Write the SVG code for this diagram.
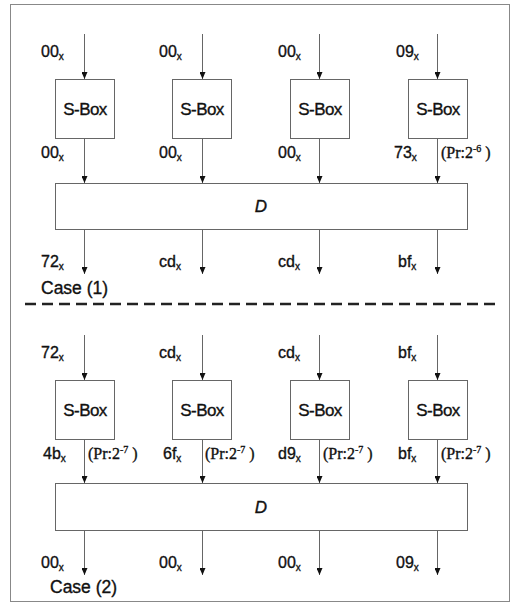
<svg xmlns="http://www.w3.org/2000/svg" width="512" height="605" viewBox="0 0 512 605">
<style>
.bg{fill:#fff}
.frame{fill:none;stroke:#888;stroke-width:1}
.box{fill:#fff;stroke:#666;stroke-width:1}
.ln{fill:none;stroke:#666;stroke-width:1}
.dash{fill:none;stroke:#222;stroke-width:2.4;stroke-dasharray:11 6}
text{stroke:#111;stroke-width:0.35px}
.lbl{font-family:"Liberation Sans",Arial,sans-serif;font-size:16px;fill:#111}
.sub{font-size:10px}
.sb{font-family:"Liberation Sans",Arial,sans-serif;font-size:17px;fill:#111;text-anchor:middle;letter-spacing:-0.6px}
.d{font-family:"Liberation Sans",Arial,sans-serif;font-size:17px;font-style:italic;fill:#111;text-anchor:middle}
.pr{font-family:"Liberation Serif","Times New Roman",serif;font-size:16px;fill:#111}
.sup{font-size:10px}
.case{font-family:"Liberation Sans",Arial,sans-serif;font-size:17.5px;fill:#111}
</style>
<defs>
<marker id="ah" markerUnits="userSpaceOnUse" markerWidth="7" markerHeight="6" refX="7" refY="3" orient="auto">
<path d="M0,0 L7,3 L0,6 z" fill="#111"/>
</marker>
</defs>
<rect class="bg" x="0" y="0" width="512" height="605"/>
<rect class="frame" x="10.5" y="4.5" width="499" height="597"/>

<g id="connectors">
<line class="ln" x1="84.5" y1="34" x2="84.5" y2="79" marker-end="url(#ah)"/>
<line class="ln" x1="202.5" y1="34" x2="202.5" y2="79" marker-end="url(#ah)"/>
<line class="ln" x1="319.5" y1="34" x2="319.5" y2="79" marker-end="url(#ah)"/>
<line class="ln" x1="437.5" y1="34" x2="437.5" y2="79" marker-end="url(#ah)"/>
<line class="ln" x1="84.5" y1="138" x2="84.5" y2="183" marker-end="url(#ah)"/>
<line class="ln" x1="202.5" y1="138" x2="202.5" y2="183" marker-end="url(#ah)"/>
<line class="ln" x1="319.5" y1="138" x2="319.5" y2="183" marker-end="url(#ah)"/>
<line class="ln" x1="437.5" y1="138" x2="437.5" y2="183" marker-end="url(#ah)"/>
<line class="ln" x1="84.5" y1="229" x2="84.5" y2="274" marker-end="url(#ah)"/>
<line class="ln" x1="202.5" y1="229" x2="202.5" y2="274" marker-end="url(#ah)"/>
<line class="ln" x1="319.5" y1="229" x2="319.5" y2="274" marker-end="url(#ah)"/>
<line class="ln" x1="437.5" y1="229" x2="437.5" y2="274" marker-end="url(#ah)"/>
<line class="dash" x1="25" y1="304" x2="497" y2="304"/>
<line class="ln" x1="84.5" y1="335" x2="84.5" y2="380" marker-end="url(#ah)"/>
<line class="ln" x1="202.5" y1="335" x2="202.5" y2="380" marker-end="url(#ah)"/>
<line class="ln" x1="319.5" y1="335" x2="319.5" y2="380" marker-end="url(#ah)"/>
<line class="ln" x1="437.5" y1="335" x2="437.5" y2="380" marker-end="url(#ah)"/>
<line class="ln" x1="84.5" y1="439" x2="84.5" y2="483" marker-end="url(#ah)"/>
<line class="ln" x1="202.5" y1="439" x2="202.5" y2="483" marker-end="url(#ah)"/>
<line class="ln" x1="319.5" y1="439" x2="319.5" y2="483" marker-end="url(#ah)"/>
<line class="ln" x1="437.5" y1="439" x2="437.5" y2="483" marker-end="url(#ah)"/>
<line class="ln" x1="84.5" y1="530" x2="84.5" y2="575" marker-end="url(#ah)"/>
<line class="ln" x1="202.5" y1="530" x2="202.5" y2="575" marker-end="url(#ah)"/>
<line class="ln" x1="319.5" y1="530" x2="319.5" y2="575" marker-end="url(#ah)"/>
<line class="ln" x1="437.5" y1="530" x2="437.5" y2="575" marker-end="url(#ah)"/>
</g>

<g id="c1-sbox1"><rect class="box" x="55.5" y="79.5" width="59" height="59"/><text class="sb" x="85" y="115">S-Box</text></g>
<g id="c1-sbox2"><rect class="box" x="172.5" y="79.5" width="59" height="59"/><text class="sb" x="202" y="115">S-Box</text></g>
<g id="c1-sbox3"><rect class="box" x="290.5" y="79.5" width="59" height="59"/><text class="sb" x="320" y="115">S-Box</text></g>
<g id="c1-sbox4"><rect class="box" x="408.5" y="79.5" width="59" height="59"/><text class="sb" x="438" y="115">S-Box</text></g>
<g id="c1-D"><rect class="box" x="55.5" y="183.5" width="412" height="46"/><text class="d" x="261" y="212">D</text></g>

<g id="c1-labels">
<text class="lbl" x="41" y="57">00<tspan class="sub" dy="3">x</tspan></text>
<text class="lbl" x="159" y="57">00<tspan class="sub" dy="3">x</tspan></text>
<text class="lbl" x="278" y="57">00<tspan class="sub" dy="3">x</tspan></text>
<text class="lbl" x="396" y="57">09<tspan class="sub" dy="3">x</tspan></text>
<text class="lbl" x="41" y="158">00<tspan class="sub" dy="3">x</tspan></text>
<text class="lbl" x="159" y="158">00<tspan class="sub" dy="3">x</tspan></text>
<text class="lbl" x="278" y="158">00<tspan class="sub" dy="3">x</tspan></text>
<text class="lbl" x="394" y="158">73<tspan class="sub" dy="3">x</tspan></text>
<text class="pr" x="441" y="158">(Pr:2<tspan class="sup" dy="-6">-6</tspan><tspan dy="6"> )</tspan></text>
<text class="lbl" x="41" y="267">72<tspan class="sub" dy="3">x</tspan></text>
<text class="lbl" x="159" y="267">cd<tspan class="sub" dy="3">x</tspan></text>
<text class="lbl" x="278" y="267">cd<tspan class="sub" dy="3">x</tspan></text>
<text class="lbl" x="398" y="267">bf<tspan class="sub" dy="3">x</tspan></text>
<text class="case" x="41" y="294">Case (1)</text>
</g>

<g id="c2-sbox1"><rect class="box" x="55.5" y="380.5" width="59" height="59"/><text class="sb" x="85" y="416">S-Box</text></g>
<g id="c2-sbox2"><rect class="box" x="172.5" y="380.5" width="59" height="59"/><text class="sb" x="202" y="416">S-Box</text></g>
<g id="c2-sbox3"><rect class="box" x="290.5" y="380.5" width="59" height="59"/><text class="sb" x="320" y="416">S-Box</text></g>
<g id="c2-sbox4"><rect class="box" x="408.5" y="380.5" width="59" height="59"/><text class="sb" x="438" y="416">S-Box</text></g>
<g id="c2-D"><rect class="box" x="55.5" y="483.5" width="412" height="47"/><text class="d" x="261" y="513">D</text></g>

<g id="c2-labels">
<text class="lbl" x="41" y="358">72<tspan class="sub" dy="3">x</tspan></text>
<text class="lbl" x="159" y="358">cd<tspan class="sub" dy="3">x</tspan></text>
<text class="lbl" x="278" y="358">cd<tspan class="sub" dy="3">x</tspan></text>
<text class="lbl" x="398" y="358">bf<tspan class="sub" dy="3">x</tspan></text>
<text class="lbl" x="43" y="459">4b<tspan class="sub" dy="3">x</tspan></text>
<text class="pr" x="88" y="459">(Pr:2<tspan class="sup" dy="-6">-7</tspan><tspan dy="6"> )</tspan></text>
<text class="lbl" x="163" y="459">6f<tspan class="sub" dy="3">x</tspan></text>
<text class="pr" x="205" y="459">(Pr:2<tspan class="sup" dy="-6">-7</tspan><tspan dy="6"> )</tspan></text>
<text class="lbl" x="278" y="459">d9<tspan class="sub" dy="3">x</tspan></text>
<text class="pr" x="323" y="459">(Pr:2<tspan class="sup" dy="-6">-7</tspan><tspan dy="6"> )</tspan></text>
<text class="lbl" x="398" y="459">bf<tspan class="sub" dy="3">x</tspan></text>
<text class="pr" x="441" y="459">(Pr:2<tspan class="sup" dy="-6">-7</tspan><tspan dy="6"> )</tspan></text>
<text class="lbl" x="41" y="568">00<tspan class="sub" dy="3">x</tspan></text>
<text class="lbl" x="159" y="568">00<tspan class="sub" dy="3">x</tspan></text>
<text class="lbl" x="278" y="568">00<tspan class="sub" dy="3">x</tspan></text>
<text class="lbl" x="396" y="568">09<tspan class="sub" dy="3">x</tspan></text>
<text class="case" x="50" y="593">Case (2)</text>
</g>
</svg>
